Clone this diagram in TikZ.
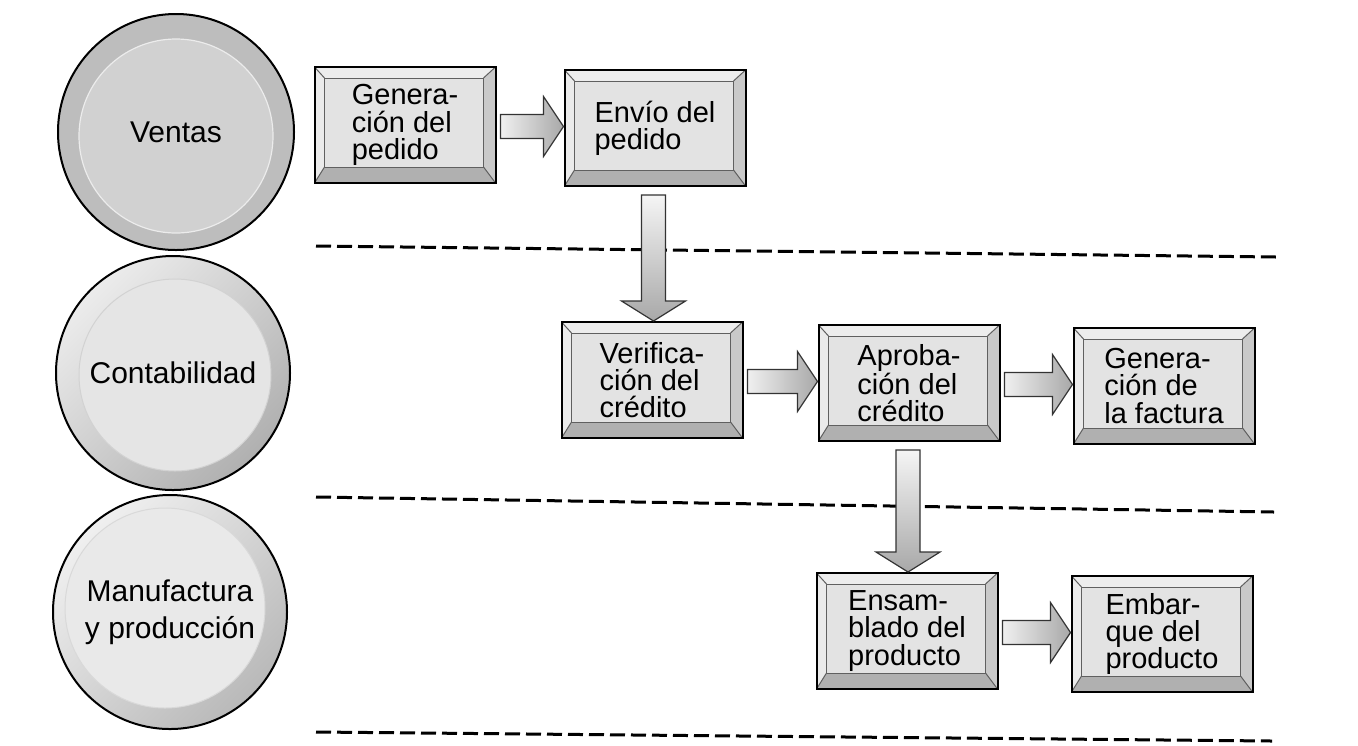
\documentclass[tikz,border=0pt]{standalone}
\usepackage{fontspec}
\setmainfont{Liberation Sans}
\usetikzlibrary{calc}

\begin{document}
\begin{tikzpicture}[x=0.5pt,y=-0.5pt,
	area/.style={circle,draw=black,line width=1pt,inner sep=0pt,align=center,
		font=\fontsize{15}{18.5}\selectfont},
	paso/.style={rectangle,draw=black,line width=1pt,fill=gray!22,
		minimum width=90.5pt,minimum height=58pt,align=left,
		font=\fontsize{14.5}{13.6}\selectfont,
		path picture={
			\coordinate (bsw) at (path picture bounding box.south west);
			\coordinate (bne) at (path picture bounding box.north east);
			\coordinate (isw) at ($(bsw)+(5pt,8pt)$);
			\coordinate (ine) at ($(bne)+(-6pt,-5.5pt)$);
			\fill[gray!14] (bne) -- (bne -| bsw) -- (ine -| isw) -- (ine) -- cycle;
			\fill[gray!16] (bne -| bsw) -- (bsw) -- (isw) -- (ine -| isw) -- cycle;
			\fill[gray!42] (bsw -| bne) -- (bne) -- (ine) -- (isw -| ine) -- cycle;
			\fill[gray!62] (bsw) -- (bsw -| bne) -- (isw -| ine) -- (isw) -- cycle;
			\draw[gray!75!black,line width=0.5pt] (isw) rectangle (ine);
			\draw[gray!75!black,line width=0.5pt] (bsw) -- (isw) (bsw -| bne) -- (isw -| ine)
				(bne) -- (ine) (bne -| bsw) -- (ine -| isw);
		}},
	flecha/.style={draw=black!80,line width=0.6pt},
	linea/.style={line width=1.5pt,dash pattern=on 7.5pt off 3pt}]

	\useasboundingbox (0,0) rectangle (1358,745);

	\draw[linea] (316,246) -- (1276,257);
	\draw[linea] (316,497) -- (1274,512);
	\draw[linea] (316,732) -- (1272,741);

	\node[area,fill=gray!52,minimum size=118pt,
		path picture={\filldraw[fill=gray!36,draw=gray!15,line width=0.6pt]
			([yshift=-2pt]path picture bounding box.center) circle (48.5pt);}]
		(ventas) at (176,132) {Ventas};
	\node[area,minimum size=117pt,top color=gray!15,bottom color=gray!62,shading angle=45,
		path picture={\filldraw[fill=gray!20,draw=gray!35,line width=0.5pt]
			([xshift=1pt,yshift=-1pt]path picture bounding box.center) circle (48pt);}]
		(conta) at (173,373) {Contabilidad};
	\node[area,minimum size=117pt,top color=gray!12,bottom color=gray!55,shading angle=45,
		path picture={\filldraw[fill=gray!17,draw=gray!30,line width=0.5pt]
			([xshift=-2.5pt,yshift=2pt]path picture bounding box.center) circle (50pt);}]
		(manuf) at (170,612) {Manufactura\\y producción};

	\node[paso] (genped) at (405,125) {Genera-\\ción del\\pedido};
	\node[paso] (envped) at (655,128) {Envío del\\pedido};
	\node[paso] (vercred) at (652,380) {Verifica-\\ción del\\crédito};
	\node[paso] (aprcred) at (909,383) {Aproba-\\ción del\\crédito};
	\node[paso] (genfac) at (1164,386) {Genera-\\ción de\\la factura};
	\node[paso] (ensprod) at (907,631) {Ensam-\\blado del\\producto};
	\node[paso] (embprod) at (1162,634) {Embar-\\que del\\producto};

	\foreach \a/\b in {genped/envped,vercred/aprcred,aprcred/genfac,ensprod/embprod}{
		\shadedraw[flecha,left color=gray!12,right color=gray!68]
			let \p1=(\a.east), \p2=(\b.west), \p3=($(\p1)!.5!(\p2)$) in
			(\x1+2pt,\y3+6pt) -- (\x2-10pt,\y3+6pt) -- (\x2-10pt,\y3+15pt) -- (\x2,\y3)
			-- (\x2-10pt,\y3-15pt) -- (\x2-10pt,\y3-6pt) -- (\x1+2pt,\y3-6pt) -- cycle;
	}
	\foreach \a/\b in {envped/vercred,aprcred/ensprod}{
		\shadedraw[flecha,top color=gray!8,bottom color=gray!68]
			let \p1=(\a.south), \p2=(\b.north), \p3=($(\p1)!.5!(\p2)$) in
			(\x3-6pt,\y1-4pt) -- (\x3-6pt,\y2+10pt) -- (\x3-16pt,\y2+10pt) -- (\x3,\y2)
			-- (\x3+16pt,\y2+10pt) -- (\x3+6pt,\y2+10pt) -- (\x3+6pt,\y1-4pt) -- cycle;
	}
\end{tikzpicture}
\end{document}
